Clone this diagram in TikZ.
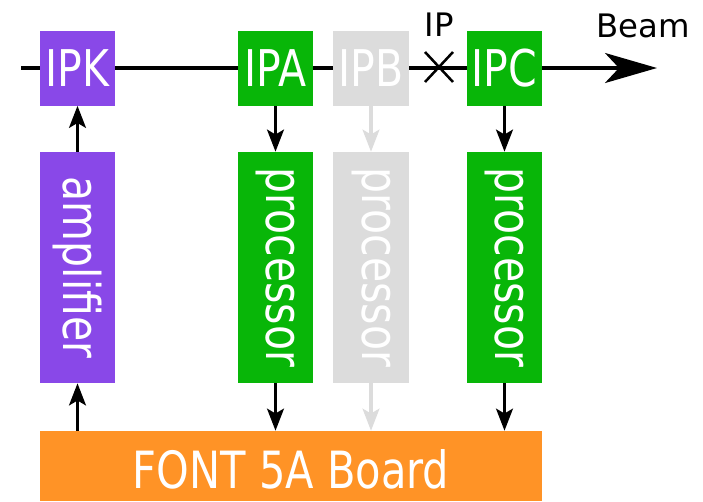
\documentclass[tikz,border=0pt]{standalone}
\usepackage{fontspec}
\setmainfont{DejaVu Sans}
\newfontfamily\condfont[FakeStretch=0.9]{DejaVu Sans Condensed}
\usepackage{xcolor}
\usetikzlibrary{arrows.meta,backgrounds,positioning}

\definecolor{ampviolet}{RGB}{137,72,232}
\definecolor{procgreen}{RGB}{8,182,8}
\definecolor{offgrey}{RGB}{220,220,220}
\definecolor{boardorange}{RGB}{255,147,38}

\newcommand{\downtext}[1]{\rotatebox{-90}{#1}}

\begin{document}
\begin{tikzpicture}[
        x=0.025cm, y=-0.025cm,
        pickup/.style={rectangle, fill=#1, text=white, inner sep=0pt,
            minimum width=1.875cm, minimum height=1.85cm,
            font=\condfont\fontsize{36}{36}\selectfont},
        chan/.style={rectangle, fill=#1, text=white, inner sep=0pt,
            minimum width=1.875cm, minimum height=5.775cm,
            font=\condfont\fontsize{36}{36}\selectfont},
        board/.style={rectangle, fill=boardorange, text=white, inner sep=0pt,
            minimum width=12.55cm, minimum height=1.75cm,
            text height=1.1cm, text depth=0cm,
            font=\condfont\fontsize{36.5}{36.5}\selectfont},
        tag/.style={font=\fontsize{23}{23}\selectfont, inner sep=0pt},
        sig/.style={-{Stealth[length=0.55cm, width=0.42cm, inset=0.12cm]}, line width=2.3pt, draw=#1},
        sig/.default=black,
        beamline/.style={-{Stealth[length=1.3cm, width=0.75cm, inset=0.35cm]}, line width=2.3pt}
    ]
        \useasboundingbox (0,0) rectangle (703,501);

        % Pickups on the beam line
        \node[pickup=ampviolet] (IPK) at (77.5,68.5) {IPK};
        \node[pickup=procgreen] (IPA) at (275.5,68.5) {IPA};
        \node[pickup=offgrey] (IPB) at (371,68.5) {IPB};
        \node[pickup=procgreen] (IPC) at (504.5,68.5) {IPC};

        % Beam line and interaction point
        \coordinate (beamstart) at (21,68);
        \coordinate (beamend) at (657,68);
        \coordinate (ip) at (439,67);
        \begin{scope}[on background layer]
            \draw[beamline] (beamstart) -- (beamend);
        \end{scope}
        \draw[line width=1.8pt] ([shift={(-14,-15)}]ip) -- ([shift={(14,15)}]ip)
                                ([shift={(-14,15)}]ip) -- ([shift={(14,-15)}]ip);
        \node[tag] (iplabel) at (439,24.5) {IP};
        \node[tag] (beamlabel) at (643,26) {Beam};

        % Electronics
        \node[chan=ampviolet] (amp) at (77.5,267.5) {\downtext{amplifier}};
        \node[chan=procgreen] (procA) at (275.5,267.5) {\downtext{processor}};
        \node[chan=offgrey] (procB) at (371,267.5) {\downtext{processor}};
        \node[chan=procgreen] (procC) at (504.5,267.5) {\downtext{processor}};
        \node[board] (font5) at (291,466) {FONT 5A Board};

        % Signal paths
        \draw[sig] (amp) -- (IPK);
        \draw[sig] (IPA) -- (procA);
        \draw[sig=offgrey] (IPB) -- (procB);
        \draw[sig] (IPC) -- (procC);
        \draw[sig] (amp.south |- font5.north) -- (amp);
        \draw[sig] (procA) -- (procA.south |- font5.north);
        \draw[sig=offgrey] (procB) -- (procB.south |- font5.north);
        \draw[sig] (procC) -- (procC.south |- font5.north);
    \end{tikzpicture}
\end{document}
